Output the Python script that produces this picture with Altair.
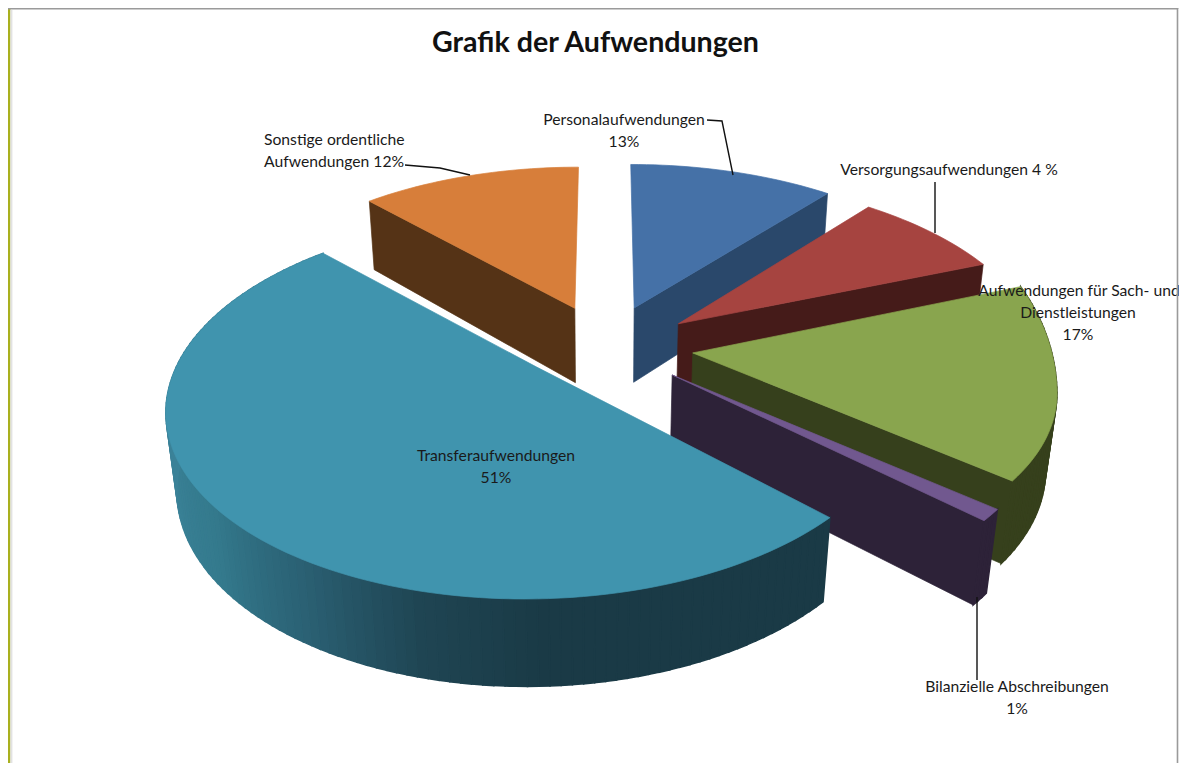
import math
import altair as alt

# ---- data ----
names = ["Personalaufwendungen", "Versorgungsaufwendungen", "Aufwendungen für Sach- und Dienstleistungen",
         "Bilanzielle Abschreibungen", "Transferaufwendungen", "Sonstige ordentliche Aufwendungen"]
drawn_shares = [11, 8, 17, 1, 51, 12]      # size of each slice as drawn
explode = [0.20, 0.26, 0.25, 0.25, 0.21, 0.20]
top_colors = ["#4571A7", "#A64440", "#89A54E", "#71588F", "#4094AE", "#D77E3A"]
side_colors = ["#2A486B", "#451B19", "#36401C", "#2D2238", "#1A3A46", "#553316"]
draw_order = [5, 0, 1, 2, 3, 4]
outer_wall = [False, False, True, True, True, False]
wall_stops = [(136, "#1A3A46"), (178, "#1A3A46"), (194, "#1F4553"), (211, "#2A5F72"),
              (231, "#347A8D"), (256, "#3B8298"), (290, "#3B8298")]

# small per-slice corrections of the view
nudge_x = [6, 1, 0, -1, -15, -5]
nudge_y = [-5, 5, 1, 0, 1, -5]
radius = [1.02, 1.03, 1.0, 1.0, 1.0, 1.0]
corner = [0, 0, 0.08, 0, 0, 0]
apex_lift = [0, 0, 0, 0, 6, 0]

label_lines = [
    ("Personalaufwendungen", "center", 624, 120), ("13%", "center", 624, 142),
    ("Versorgungsaufwendungen  4 %", "center", 949, 170),
    ("Aufwendungen für Sach- und", "center", 1079, 291), ("Dienstleistungen", "center", 1078, 313), ("17%", "center", 1078, 335),
    ("Sonstige ordentliche", "left", 264, 140), ("Aufwendungen 12%", "left", 264, 162),
    ("Transferaufwendungen", "center", 496, 456), ("51%", "center", 496, 478),
    ("Bilanzielle Abschreibungen", "center", 1017, 687), ("1%", "center", 1017, 709),
]
leaders = [
    [(707, 120), (722, 121), (733, 175)],
    [(935, 182), (935, 233)],
    [(405, 165), (440, 168), (470, 175)],
    [(977, 597), (977, 680)],
]

# ---- view ----
CX, CY, SX, SY, PERSP, THICK, LEAN = 605, 345, 353, 176, 0.175, 76, 0.025
W, H = 1171, 755


def project(x, y, z=0, nx=0, ny=0):
    w = 1 + PERSP * y + LEAN * z
    return [CX + SX * x / w - 8 + nx, CY - SY * y / w + THICK * z / (1 + PERSP * y) - 8 + ny]


def poly(points, color, sw=0.7):
    return {"type": "Feature", "properties": {"color": color, "sw": sw},
            "geometry": {"type": "Polygon", "coordinates": [points + [points[0]]]}}


def mix(a, c1, c2, a1, a2):
    t = (a - a1) / (a2 - a1)
    v = [round(int(c1[i:i + 2], 16) * (1 - t) + int(c2[i:i + 2], 16) * t) for i in (1, 3, 5)]
    return "#%02x%02x%02x" % tuple(v)


def wall_color(a, base):
    if base != "#1A3A46":
        return base
    for (a1, c1), (a2, c2) in zip(wall_stops, wall_stops[1:]):
        if a <= a2:
            return mix(max(a, a1), c1, c2, a1, a2)
    return wall_stops[-1][1]


total = sum(drawn_shares)
edges = [0]
for s in drawn_shares:
    edges.append(edges[-1] + s / total * 360)

features = []
for i in draw_order:
    a0, a1 = edges[i], edges[i + 1]
    mid = math.radians((a0 + a1) / 2)
    ex, ey = explode[i] * math.sin(mid), explode[i] * math.cos(mid)
    nx, ny = nudge_x[i], nudge_y[i]
    steps = max(3, int((a1 - a0) / 1.5))
    angles = [a0 + (a1 - a0) * k / steps for k in range(steps + 1)]

    def rim(a, z=0):
        r = math.radians(a)
        t = max(0.0, 1 - (a - a0) / (0.55 * (a1 - a0)))
        rad = radius[i] * (1 + corner[i] * t * t)
        return project(ex + rad * math.sin(r), ey + rad * math.cos(r), z, nx, ny)

    apex, apex_low = project(ex, ey, 0, nx, ny - apex_lift[i]), project(ex, ey, 1, nx, ny)
    # radial wall that faces the viewer
    wall_a = a0 if i == 5 else a1
    if i != 4:
        features.append(poly([apex, rim(wall_a), rim(wall_a, 1), apex_low], side_colors[i]))
    if outer_wall[i]:
        for p, q in zip(angles, angles[1:]):
            features.append(poly([rim(p), rim(q), rim(q, 1), rim(p, 1)],
                                 wall_color((p + q) / 2, side_colors[i]), 1.5))
    features.append(poly([apex] + [rim(a) for a in angles], top_colors[i]))

line_features = [{"type": "Feature", "properties": {},
                  "geometry": {"type": "LineString", "coordinates": [[x - 8, y - 8] for x, y in l]}} for l in leaders]

slices = alt.Chart(alt.Data(values=features)).mark_geoshape().encode(
    fill=alt.Fill("properties.color:N", scale=None, legend=None),
    stroke=alt.Stroke("properties.color:N", scale=None, legend=None),
    strokeWidth=alt.StrokeWidth("properties.sw:Q", scale=None, legend=None),
).project(type="identity", scale=1, translate=[0, 0])

lines = alt.Chart(alt.Data(values=line_features)).mark_geoshape(
    filled=False, stroke="#111111", strokeWidth=1.4
).project(type="identity", scale=1, translate=[0, 0])


def labels(align):
    rows = [{"t": t, "px": x - 8, "py": y - 8} for t, al, x, y in label_lines if al == align]
    return alt.Chart(alt.Data(values=rows)).mark_text(
        font="Lato", fontSize=15.7, color="#1a1a1a", align=align, baseline="middle"
    ).encode(text="t:N", x=alt.X("px:Q", scale=None), y=alt.Y("py:Q", scale=None))


title = alt.Chart(alt.Data(values=[{"t": "Grafik der Aufwendungen", "px": 587.5, "py": 35}])).mark_text(
    font="Lato", fontSize=28.6, fontWeight="bold", color="#111111", align="center", baseline="middle"
).encode(text="t:N", x=alt.X("px:Q", scale=None), y=alt.Y("py:Q", scale=None))

left_olive = alt.Chart(alt.Data(values=[{"a": 0}])).mark_rule(color="#A9B01E", strokeWidth=2.4).encode(
    x=alt.value(1.2), y=alt.value(0), y2=alt.value(H))
left_grey = alt.Chart(alt.Data(values=[{"a": 0}])).mark_rule(color="#E2E2E2", strokeWidth=2).encode(
    x=alt.value(3.4), y=alt.value(2), y2=alt.value(H))
top_grey = alt.Chart(alt.Data(values=[{"a": 0}])).mark_rule(color="#9A9A9A", strokeWidth=1.6).encode(
    y=alt.value(0.8), x=alt.value(0), x2=alt.value(W - 1))
right_grey = alt.Chart(alt.Data(values=[{"a": 0}])).mark_rule(color="#9A9A9A", strokeWidth=1.6).encode(
    x=alt.value(W - 1.5), y=alt.value(0), y2=alt.value(H))

chart = alt.layer(slices, lines, labels("center"), labels("left"), title,
                  left_olive, left_grey, top_grey, right_grey).properties(
    width=W, height=H, padding=0, autosize=alt.AutoSizeParams(type="none")
).configure_view(stroke=None).configure(background="white")

chart.save("out.html", embed_options={"renderer": "svg", "actions": False})
